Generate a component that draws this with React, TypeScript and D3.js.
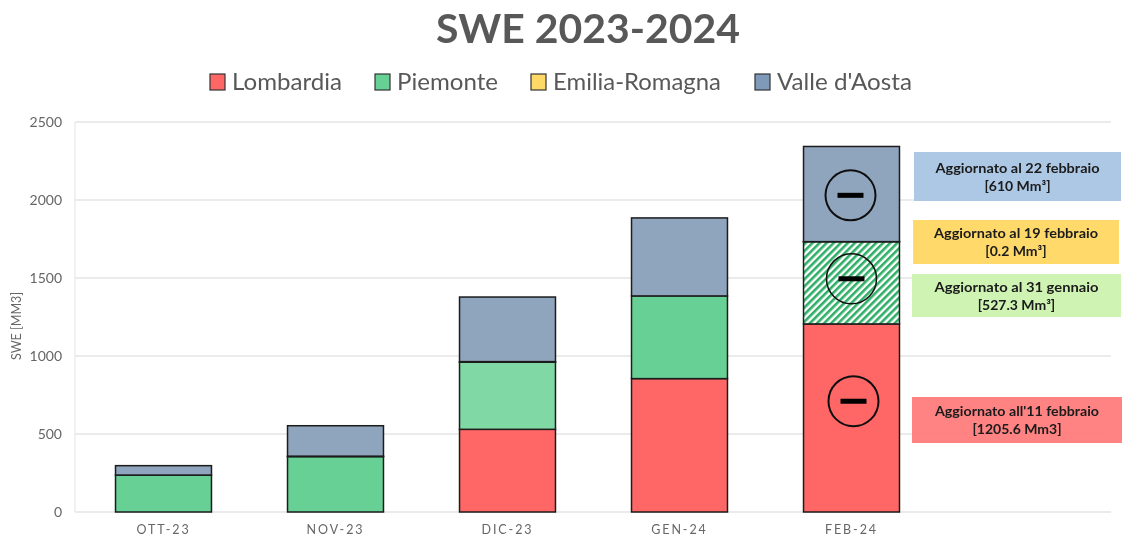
import React from "react";
import * as d3 from "d3";

const categories = ["OTT-23", "NOV-23", "DIC-23", "GEN-24", "FEB-24", ""];
const seriesNames = ["Lombardia", "Piemonte", "Emilia-Romagna", "Valle d'Aosta"];
const lombardia = [0, 0, 530, 855, 1205.6];
const piemonte = [237, 355, 430, 530, 527.3];
const emilia = [0, 3, 4, 0, 0.2];
const valle = [60, 195, 414, 500, 610];
const yTicks = [0, 500, 1000, 1500, 2000, 2500];
const legendColors = ["#ff6666", "#66d095", "#ffd966", "#7f9ab8"];
const notes = [
  { l1: "Aggiornato al 22 febbraio", l2: "[610 Mm³]", fill: "#a9c6e3", x: 914, y: 152, w: 207, h: 49 },
  { l1: "Aggiornato al 19 febbraio", l2: "[0.2 Mm³]", fill: "#ffd966", x: 913, y: 220, w: 206, h: 44 },
  { l1: "Aggiornato al 31 gennaio", l2: "[527.3 Mm³]", fill: "#cdf3b0", x: 912, y: 274, w: 209, h: 43 },
  { l1: "Aggiornato all'11 febbraio", l2: "[1205.6 Mm3]", fill: "#ff7f7f", x: 912, y: 397, w: 210, h: 46 },
];
const minusMarks = [
  { cat: "FEB-24", value: 2030, dx: -1, sw: 2 },
  { cat: "FEB-24", value: 1495, dx: 0, sw: 1.5 },
  { cat: "FEB-24", value: 710, dx: 2, sw: 2 },
];
const legendPos = [
  { sx: 210, tx: 232, w: 110 },
  { sx: 375, tx: 397, w: 101 },
  { sx: 531, tx: 553, w: 168 },
  { sx: 755, tx: 777, w: 135 },
];

const font = "Lato, sans-serif";

export default function App() {
  const x = d3.scaleBand<string>().domain(categories).range([77.5, 1109.5]).paddingInner(0.442).paddingOuter(0.221);
  const y = d3.scaleLinear().domain([0, 2500]).range([512, 122]);
  const stack = d3.stack<number>().keys(["0", "1", "2", "3"]).value((i, k) => [lombardia, piemonte, emilia, valle][+k][i]);
  const layers = stack(d3.range(5));
  const fillFor = (s: number, i: number) => {
    if (s === 0) return "#ff6666";
    if (s === 1) return i === 4 ? "url(#hatch)" : i === 2 ? "#80d8a5" : "#66d095";
    if (s === 2) return "#ffd966";
    return "#8fa5bd";
  };
  return (
    <svg width={1122} height={537} style={{ position: "absolute", left: 0, top: 0, background: "#fff" }}>
      <defs>
        <pattern id="hatch" width={5} height={5} patternUnits="userSpaceOnUse" patternTransform="rotate(-45)">
          <rect width={5} height={5} fill="#ffffff" />
          <rect width={5} height={2.6} fill="#2fae66" />
        </pattern>
        <filter id="soft" x="0" y="0" width="100%" height="100%">
          <feGaussianBlur stdDeviation={0.4} />
        </filter>
      </defs>
      <g filter="url(#soft)">
        <text x={588} y={43} textAnchor="middle" fontFamily={font} fontWeight={700} fontSize={40} fill="#595959" textLength={304} lengthAdjust="spacingAndGlyphs">SWE 2023-2024</text>
        {seriesNames.map((n, i) => (
          <g key={n}>
            <rect x={legendPos[i].sx} y={74} width={15} height={16} fill={legendColors[i]} stroke="#333" strokeWidth={1.2} />
            <text x={legendPos[i].tx} y={90} fontFamily={font} fontSize={23} fill="#595959" textLength={legendPos[i].w} lengthAdjust="spacingAndGlyphs">{n}</text>
          </g>
        ))}
        <line x1={75} x2={75} y1={122} y2={512} stroke="#e8e8e8" strokeWidth={1.2} />
        {yTicks.map((t) => (
          <g key={t}>
            <line x1={75} x2={1111} y1={y(t)} y2={y(t)} stroke="#e4e4e4" strokeWidth={1.4} />
            <text x={62} y={y(t) + 5} textAnchor="end" fontFamily={font} fontSize={14} fill="#666">{t}</text>
          </g>
        ))}
        <text transform="translate(21,326) rotate(-90)" textAnchor="middle" fontFamily={font} fontSize={12.5} fill="#666">SWE [MM3]</text>
        {categories.filter(Boolean).map((c) => (
          <text key={c} x={x(c)! + x.bandwidth() / 2} y={534} textAnchor="middle" fontFamily={font} fontSize={12.5} letterSpacing={1.9} fill="#666">{c}</text>
        ))}
        {layers.map((layer, s) =>
          layer.map((d, i) => {
            if (d[1] - d[0] <= 0) return null;
            return (
              <rect key={`${s}-${i}`} x={x(categories[i])} width={x.bandwidth()} y={y(d[1])} height={y(d[0]) - y(d[1])}
                fill={fillFor(s, i)} stroke="#1c1c1c" strokeWidth={1.5} />
            );
          })
        )}
        {minusMarks.map((m, i) => {
          const cx = x(m.cat)! + x.bandwidth() / 2 + m.dx;
          const cy = y(m.value);
          return (
            <g key={i}>
              <circle cx={cx} cy={cy} r={25} fill="none" stroke="#111" strokeWidth={m.sw} />
              <rect x={cx - 13} y={cy - 2.5} width={26} height={5} fill="#000" />
            </g>
          );
        })}
        {notes.map((n) => (
          <g key={n.l1}>
            <rect x={n.x} y={n.y} width={n.w} height={n.h} fill={n.fill} fillOpacity={0.97} />
            <text x={n.x + n.w / 2} y={n.y + n.h / 2 - 4} textAnchor="middle" fontFamily={font} fontWeight={700} fontSize={14} fill="#1a1a1a" textLength={164} lengthAdjust="spacingAndGlyphs">{n.l1}</text>
            <text x={n.x + n.w / 2} y={n.y + n.h / 2 + 14} textAnchor="middle" fontFamily={font} fontWeight={700} fontSize={14} fill="#1a1a1a">{n.l2}</text>
          </g>
        ))}
      </g>
    </svg>
  );
}
